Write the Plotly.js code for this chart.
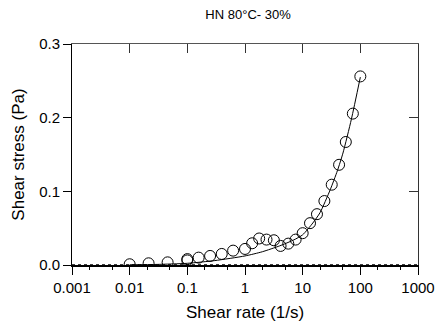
<!DOCTYPE html>
<html>
<head>
<meta charset="utf-8">
<script src="https://cdn.plot.ly/plotly-3.0.1.min.js"></script>
<style>html,body{margin:0;padding:0;background:#fff;}#chart{width:439px;height:329px;}</style>
</head>
<body>
<div id="chart"></div>
<script>
// Measured data points
const shearRate = [0.01, 0.0213, 0.0455, 0.1, 0.1, 0.157, 0.248, 0.395, 0.622, 1.0, 1.33, 1.76, 2.36, 3.17, 4.14, 5.63, 7.55, 10, 13.4, 17.7, 23.8, 31.9, 42.8, 56, 74.1, 100];
const shearStress = [0.001, 0.0023, 0.0036, 0.0062, 0.008, 0.010, 0.0123, 0.015, 0.0195, 0.0218, 0.0295, 0.036, 0.0345, 0.0336, 0.0259, 0.029, 0.0345, 0.0432, 0.0568, 0.069, 0.0868, 0.109, 0.136, 0.167, 0.2055, 0.256];
// Fitted curve
const fitRate = [0.01, 0.03, 0.1, 0.3, 1, 2, 4, 7, 10, 15, 20, 30, 40, 50, 70, 100];
const fitStress = [0.0003, 0.0008, 0.0023, 0.006, 0.0123, 0.018, 0.026, 0.034, 0.041, 0.057, 0.071, 0.102, 0.128, 0.152, 0.198, 0.255];
// Tick labels
const xTickVals = [0.001, 0.01, 0.1, 1, 10, 100, 1000];
const xTickText = ['0.001', '0.01', '0.1', '1', '10', '100', '1000'];
const yTickVals = [0, 0.1, 0.2, 0.3];
const yTickText = ['0.0', '0.1', '0.2', '0.3'];
const titleText = 'HN 80°C- 30%';

const font = 'Liberation Sans, Arial, sans-serif';

const traces = [
  {
    x: fitRate, y: fitStress, mode: 'lines', type: 'scatter',
    line: {color: '#000', width: 1, shape: 'spline', smoothing: 0.6},
    hoverinfo: 'skip', showlegend: false
  },
  {
    x: shearRate, y: shearStress, mode: 'markers', type: 'scatter',
    marker: {symbol: 'circle-open', size: 11, color: '#000', line: {width: 1, color: '#000'}},
    showlegend: false
  },
  {
    x: [0.001, 1000], y: [0, 0], mode: 'lines', type: 'scatter',
    line: {color: '#000', width: 1.5, dash: 'dot'}, hoverinfo: 'skip', showlegend: false
  }
];

const layout = {
  width: 439, height: 329,
  margin: {l: 72, r: 21, t: 44, b: 64},
  paper_bgcolor: '#fff', plot_bgcolor: '#fff',
  showlegend: false,
  title: {text: titleText, font: {family: font, size: 13, color: '#000'}, x: 0.565, xanchor: 'center', y: 0.955, yanchor: 'middle'},
  xaxis: {
    type: 'log', range: [-3, 3],
    tickvals: xTickVals, ticktext: xTickText,
    ticks: 'outside', ticklen: 8, tickwidth: 1, tickcolor: '#000',
    showline: true, linecolor: '#000', linewidth: 1.5,
    showgrid: false, zeroline: false,
    tickfont: {family: font, size: 15, color: '#000'},
    title: {text: 'Shear rate (1/s)', font: {family: font, size: 17, color: '#000'}, standoff: 11},
    minor: {ticks: 'outside', ticklen: 3, tickcolor: '#000', showgrid: false},
    mirror: false
  },
  xaxis2: {
    type: 'log', range: [-3, 3], overlaying: 'x', side: 'top', anchor: 'y',
    tickvals: xTickVals, showticklabels: false,
    ticks: 'inside', ticklen: 9, tickwidth: 1, tickcolor: '#333',
    showline: true, linecolor: '#555', linewidth: 1,
    showgrid: false, zeroline: false
  },
  yaxis: {
    range: [0, 0.3],
    tickvals: yTickVals, ticktext: yTickText,
    ticks: 'outside', ticklen: 8, tickwidth: 1, tickcolor: '#000',
    showline: true, linecolor: '#000', linewidth: 1,
    showgrid: false, zeroline: false,
    tickfont: {family: font, size: 15, color: '#000'},
    title: {text: 'Shear stress (Pa)', font: {family: font, size: 17, color: '#000'}, standoff: 10}
  },
  yaxis2: {
    range: [0, 0.3], overlaying: 'y', side: 'right', anchor: 'x',
    tickvals: [0.1, 0.2], showticklabels: false,
    ticks: 'inside', ticklen: 9, tickwidth: 1, tickcolor: '#333',
    showline: true, linecolor: '#333', linewidth: 1,
    showgrid: false, zeroline: false
  }
};

// dummy traces to activate secondary axes
traces.push({x: [1], y: [0.5], xaxis: 'x2', yaxis: 'y', mode: 'markers', marker: {opacity: 0}, hoverinfo: 'skip', showlegend: false});
traces.push({x: [1], y: [0.5], xaxis: 'x', yaxis: 'y2', mode: 'markers', marker: {opacity: 0}, hoverinfo: 'skip', showlegend: false});

Plotly.newPlot('chart', traces, layout, {staticPlot: true, displayModeBar: false});
</script>
</body>
</html>
